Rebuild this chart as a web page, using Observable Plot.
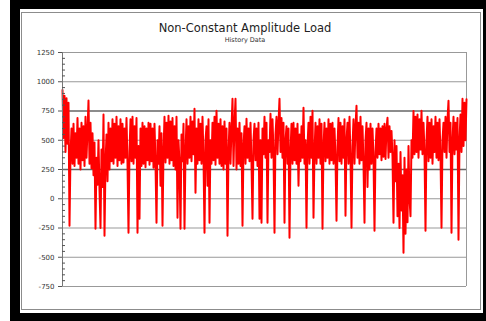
<!DOCTYPE html>
<html><head><meta charset="utf-8">
<script src="https://cdn.jsdelivr.net/npm/d3@7"></script>
<script src="https://cdn.jsdelivr.net/npm/@observablehq/plot@0.6"></script>
<style>
html,body{margin:0;padding:0;background:#fff;}
#wrap{position:relative;width:486px;height:321px;overflow:hidden;background:#fff;}
#black{position:absolute;left:10px;top:0;right:0;bottom:0;background:#000;}
#panel{position:absolute;left:20px;top:9px;width:463px;height:304px;background:#fff;}
#border{position:absolute;left:21px;top:12px;width:460px;height:298px;border:1px solid #8c8c8c;box-sizing:border-box;}
#title{position:absolute;left:0;width:490px;top:21px;text-align:center;font:11.5px "DejaVu Sans",sans-serif;color:#222;white-space:nowrap;}
#sub{position:absolute;left:0;width:490px;top:36px;text-align:center;font:6.5px "DejaVu Sans",sans-serif;color:#333;white-space:nowrap;}
#chart{position:absolute;left:0;top:0;}
</style></head>
<body>
<div id="wrap">
  <div id="black"></div>
  <div id="panel"></div>
  <div id="border"></div>
  <div id="title">Non-Constant Amplitude Load</div>
  <div id="sub">History Data</div>
  <div id="chart"></div>
</div>
<script>
const title = "Non-Constant Amplitude Load";
const subtitle = "History Data";
const yTicks = [1250, 1000, 750, 500, 250, 0, -250, -500, -750];
const yDomain = [-750, 1250];
const loadValues = [
  930, 520, 880, 400, 860, 470, 820, -230, 380, 600,
  300, 640, 280, 560, 350, 690, 300, 600, 250, 650,
  330, 620, 280, 700, 350, 580, 840, 300, 650, 260,
  560, 200, 480, -256, 350, 120, 500, 80, -250, 420,
  100, 720, -316, 300, 550, 150, 650, 250, 600, 320,
  680, 300, 640, 350, 700, 280, 620, 330, 680, 300,
  640, 310, 600, 350, 690, 300, -290, 400, 680, 320,
  700, 300, 620, 350, 690, -290, 450, -170, 600, 280,
  650, 300, 620, 270, 600, 330, 650, 290, 640, 320,
  600, 265, 640, 300, -205, 500, 300, 620, 111, 560,
  -230, 400, 700, 310, 650, 350, 710, 300, 660, 330,
  690, 280, 620, 250, 700, -162, 500, 300, -256, 550,
  320, 640, -256, 400, 680, 300, 620, 350, 700, 320,
  660, 380, 770, 51, 600, 300, 680, 330, 640, 300,
  700, 350, -290, 500, 620, 111, 680, -205, 500, 300,
  650, 330, 700, 290, 752, 350, 640, 300, 680, 280,
  620, 250, 660, 300, 600, -316, 400, 650, 300, 600,
  855, 280, 640, 855, 250, 600, 300, 650, 280, 560,
  -230, 450, 620, 300, 684, 350, 600, 320, 650, 300,
  -171, 500, 640, 330, 600, 280, 650, -171, 500, -205,
  600, 380, 700, 350, 650, -205, 500, 400, 727, 350,
  680, 400, -290, 550, 700, 380, 650, 855, 400, 690,
  350, 650, -205, 500, 620, 300, 600, -333, 400, 640,
  300, 650, 330, 600, 300, 640, 111, 550, 320, 620,
  350, 778, 300, 500, -248, 450, 650, 300, 700, 350,
  752, -162, 400, 650, 300, 620, 350, 680, 300, 640,
  -256, 450, 650, 320, 600, 350, 680, 300, 640, 330,
  650, 300, 600, 350, -188, 450, 690, 320, 650, 300,
  620, 350, 680, -145, 500, 650, 300, 700, 350, -248,
  450, 680, 300, 620, 795, 350, 650, 300, 700, 330,
  620, 300, -205, 500, 650, 100, 600, 250, 640, 300,
  600, 350, -273, 400, 600, 350, 640, 380, 600, 330,
  620, 360, 640, 340, 600, 692, 350, 620, 400, 580,
  360, -205, 500, 150, 450, -150, 300, -250, 400, -100,
  200, -462, 350, -300, 250, -200, 450, 0, -150, 500,
  350, 750, 380, 700, 400, 720, 350, 680, 420, 752,
  380, 650, 400, -273, 500, 700, 320, 650, 350, 680,
  300, 620, 400, 700, 350, 650, 330, 680, 380, -248,
  500, 650, 400, 700, 350, 680, 838, 400, 650, -290,
  500, 700, 380, 650, 420, 690, -350, 500, 720, 400,
  855, 450, 820, 500, 850
];

const data = loadValues.map((v, i) => ({i, v}));
const minorTicks = d3.range(yDomain[0], yDomain[1] + 1, 50).filter(t => t % 250 !== 0);
const darkGrid = yTicks.filter(t => t === 750 || t === 250);
const lightGrid = yTicks.filter(t => t !== 750 && t !== 250);

const chart = Plot.plot({
  width: 486,
  height: 321,
  marginLeft: 62,
  marginRight: 20,
  marginTop: 52,
  marginBottom: 35,
  style: {background: "transparent", fontFamily: "DejaVu Sans, sans-serif", fontSize: "7px", color: "#333"},
  x: {domain: [0, loadValues.length - 1], axis: null},
  y: {domain: yDomain, axis: null},
  marks: [
    Plot.ruleY(lightGrid, {stroke: "#999", strokeWidth: 1}),
    Plot.ruleY(darkGrid, {stroke: "#666", strokeWidth: 1.4}),
    Plot.ruleX([loadValues.length - 1], {stroke: "#999"}),
    Plot.lineY(data, {x: "i", y: "v", stroke: "#ff0000", strokeWidth: 2}),
    Plot.ruleX([0], {stroke: "#777"}),
    Plot.axisY(minorTicks, {tickSize: -3, tickFormat: () => "", stroke: "#555", label: null}),
    Plot.axisY(yTicks, {tickSize: 4, tickPadding: 4, tickFormat: d => String(d), stroke: "#555", fill: "#333", label: null})
  ]
});
document.getElementById("chart").appendChild(chart);
</script>
</body></html>
